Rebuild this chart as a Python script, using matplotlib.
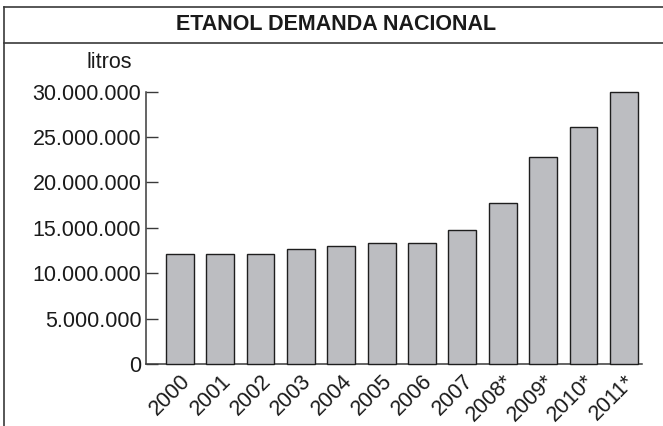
import matplotlib
matplotlib.use('Agg')
import matplotlib.pyplot as plt
from matplotlib.lines import Line2D

## dados
anos = ['2000', '2001', '2002', '2003', '2004', '2005',
        '2006', '2007', '2008*', '2009*', '2010*', '2011*']
demanda = [12150000, 12150000, 12150000, 12630000, 13040000, 13300000,
           13300000, 14760000, 17700000, 22770000, 26100000, 30000000]
ticks_y = [0, 5000000, 10000000, 15000000, 20000000, 25000000, 30000000]
rotulos_y = ['0', '5.000.000', '10.000.000', '15.000.000',
             '20.000.000', '25.000.000', '30.000.000']

plt.rcParams['font.family'] = ['Liberation Sans', 'DejaVu Sans']

fig = plt.figure(figsize=(6.63, 4.26), dpi=100)
fig.patch.set_facecolor('white')

## moldura externa e faixa do título
cor_linha = '#3a3a3a'
fig.add_artist(Line2D([4 / 663, 4 / 663], [0, 1 - 7 / 426], color=cor_linha, lw=1.2))
fig.add_artist(Line2D([4 / 663, 1], [1 - 7 / 426, 1 - 7 / 426], color=cor_linha, lw=1.2))
fig.add_artist(Line2D([4 / 663, 1], [1 - 43 / 426, 1 - 43 / 426], color=cor_linha, lw=1.2))
fig.text(336 / 663, 1 - 25 / 426, 'ETANOL DEMANDA NACIONAL', ha='center', va='center',
         fontsize=15.5, fontweight='bold', color='#1a1a1a')

ax = fig.add_axes([145.5 / 663, 1 - 364 / 426, (642 - 145.5) / 663, (364 - 91.7) / 426])
x = range(len(anos))
ax.bar(x, demanda, width=0.69, color='#bcbdc1', edgecolor='#1e1e1e', linewidth=1.0,
       clip_on=False, zorder=3)

ax.set_xlim(-0.85, 11.45)
ax.set_ylim(0, 30000000)
ax.set_yticks(ticks_y)
ax.set_yticklabels(rotulos_y)
ax.set_xticks(list(x))
ax.set_xticklabels(anos, rotation=45, ha='right', va='top', rotation_mode='anchor')

ax.tick_params(axis='y', direction='in', length=8.5, width=1.0, color=cor_linha,
               pad=3, labelsize=15.5, labelcolor='#1a1a1a')
ax.tick_params(axis='x', length=0, pad=5, labelsize=15.5, labelcolor='#1a1a1a')

for lado in ['top', 'right']:
    ax.spines[lado].set_visible(False)
for lado in ['left', 'bottom']:
    ax.spines[lado].set_color(cor_linha)
    ax.spines[lado].set_linewidth(1.1)

fig.text(109 / 663, 1 - 62 / 426, 'litros', ha='center', va='center',
         fontsize=15.5, color='#1a1a1a')

plt.savefig('out.png', dpi=100)
